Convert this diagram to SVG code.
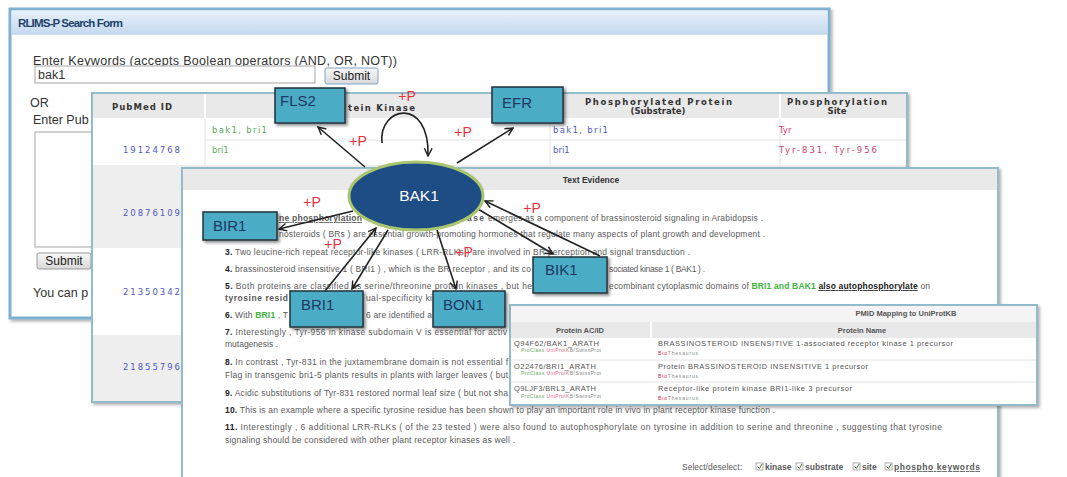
<svg xmlns="http://www.w3.org/2000/svg" width="1067" height="477" viewBox="0 0 1067 477">
<defs>
<style>
.f{font-family:"Liberation Sans",Arial,sans-serif}
.v{font-family:"DejaVu Sans",Verdana,sans-serif}
.frm{font-family:"Liberation Sans",Arial,sans-serif;font-size:12.5px;fill:#333}
.pn{fill:#fff;stroke:#93bccb;stroke-width:2}
.hd{fill:#e9e9e9}
.t{font-family:"Liberation Sans",Arial,sans-serif;font-size:8.5px;fill:#5a5a5a}
.n{font-weight:bold;fill:#222}
.th{font-family:"DejaVu Sans",Verdana,sans-serif;font-size:8.5px;font-weight:bold;fill:#333}
.c{font-family:"DejaVu Sans",Verdana,sans-serif;font-size:8.5px}
.gr{fill:#5fa85f}
.bu{fill:#5059c4}
.rd{fill:#cc4468}
.pm{font-family:"Liberation Sans",Arial,sans-serif;font-size:7.5px;fill:#555}
.sm{font-family:"Liberation Sans",Arial,sans-serif;font-size:5px}
.box{fill:#4bacc6;stroke:#23303a;stroke-width:1.5}
.bl{font-family:"Liberation Sans",Arial,sans-serif;font-size:15px;fill:#1f3864}
.pp{font-family:"Liberation Sans",Arial,sans-serif;font-size:14px;fill:#e8323c}
.ar{stroke:#222;stroke-width:1.6;fill:none;marker-end:url(#ah)}
.btn{fill:url(#bg);stroke:#9a9a9a}
.cb{fill:#fff;stroke:#999;stroke-width:0.8}
.ck{fill:none;stroke:#4a7a4a;stroke-width:1}
</style>
<linearGradient id="tb" x1="0" y1="0" x2="0" y2="1"><stop offset="0" stop-color="#e6f0fa"/><stop offset="1" stop-color="#c6daee"/></linearGradient>
<linearGradient id="bg" x1="0" y1="0" x2="0" y2="1"><stop offset="0" stop-color="#f7f7f7"/><stop offset="1" stop-color="#d9d9d9"/></linearGradient>
<filter id="sh" x="-5%" y="-5%" width="115%" height="115%"><feDropShadow dx="2" dy="2" stdDeviation="1.5" flood-color="#000" flood-opacity="0.3"/></filter>
<filter id="bs" x="-20%" y="-20%" width="150%" height="150%"><feDropShadow dx="2" dy="2" stdDeviation="1.5" flood-color="#000" flood-opacity="0.45"/></filter>
<marker id="ah" viewBox="0 0 10 10" refX="9" refY="5" markerWidth="6" markerHeight="6" orient="auto"><path d="M1,1 L9,5 L1,9" fill="none" stroke="#222" stroke-width="1.5"/></marker>
</defs>
<rect width="1067" height="477" fill="#fff"/>

<g id="search-form">
<rect x="10" y="9" width="819" height="309" fill="#fff" stroke="#7fb0cf" stroke-width="3" filter="url(#sh)"/>
<rect x="11.5" y="10.5" width="816" height="23" fill="url(#tb)"/>
<line x1="11.5" y1="34" x2="827.5" y2="34" stroke="#a9c4de"/>
<text class="f" x="18" y="27" font-size="11.5" font-weight="bold" fill="#22436b" textLength="105">RLIMS-P Search Form</text>
<text class="frm" x="33" y="65" textLength="364">Enter Keywords (accepts Boolean operators (AND, OR, NOT))</text>
<rect x="35" y="66" width="280" height="17" fill="#fff" stroke="#a5a5a5"/>
<text class="frm" x="38" y="79">bak1</text>
<rect x="325" y="68" width="53" height="16" rx="2" fill="url(#bg)" stroke="#7ea6c8"/>
<text class="f" x="351.5" y="80" font-size="12" fill="#222" text-anchor="middle">Submit</text>
<text class="frm" x="30" y="107">OR</text>
<text class="frm" x="33" y="124">Enter Pub</text>
<rect x="35" y="132" width="80" height="115" fill="#fff" stroke="#a5a5a5"/>
<rect x="37" y="253" width="54" height="16" rx="2" class="btn"/>
<text class="f" x="64" y="265" font-size="12" fill="#222" text-anchor="middle">Submit</text>
<text class="frm" x="33" y="297" font-size="13">You can p</text>
</g>

<g id="pubmed-table">
<rect x="92" y="93" width="815" height="309" class="pn" filter="url(#sh)"/>
<rect x="93" y="94" width="813" height="24" class="hd"/>
<rect x="93" y="165" width="813" height="83" fill="#eeeeee"/>
<rect x="93" y="335" width="813" height="66" fill="#eeeeee"/>
<g stroke="#fff" stroke-width="2"><line x1="205" y1="94" x2="205" y2="118"/><line x1="550" y1="94" x2="550" y2="118"/><line x1="780" y1="94" x2="780" y2="118"/></g>
<g stroke="#e4e4e4" stroke-width="1"><line x1="205" y1="140" x2="906" y2="140"/><line x1="205" y1="118" x2="205" y2="165"/><line x1="550" y1="118" x2="550" y2="165"/><line x1="780" y1="118" x2="780" y2="165"/></g>
<text class="th" x="112" y="110" textLength="60">PubMed ID</text>
<text class="th" x="348" y="111" textLength="67">tein Kinase</text>
<text class="th" x="585" y="105" textLength="147">Phosphorylated Protein</text>
<text class="th" x="658" y="114" text-anchor="middle">(Substrate)</text>
<text class="th" x="787" y="105" textLength="100">Phosphorylation</text>
<text class="th" x="837" y="114" text-anchor="middle">Site</text>
<text class="c gr" x="212" y="133" textLength="55">bak1, bri1</text>
<text class="c gr" x="212" y="153">bri1</text>
<text class="c bu" x="553" y="133" textLength="55">bak1, bri1</text>
<text class="c bu" x="553" y="153">bri1</text>
<text class="c rd" x="779" y="133">Tyr</text>
<text class="c rd" x="779" y="153" textLength="98">Tyr-831, Tyr-956</text>
<text class="c bu" x="123" y="153" textLength="57">19124768</text>
<text class="c bu" x="123" y="216" textLength="57">20876109</text>
<text class="c bu" x="123" y="295" textLength="57">21350342</text>
<text class="c bu" x="123" y="370" textLength="57">21855796</text>
</g>

<g id="text-evidence">
<rect x="182" y="168" width="816" height="330" class="pn" filter="url(#sh)"/>
<rect x="183" y="169" width="814" height="21" class="hd"/>
<text class="f" x="591" y="183" font-size="8.5" font-weight="bold" fill="#333" text-anchor="middle">Text Evidence</text>
<text class="t" x="279" y="221" textLength="83" font-weight="bold" fill="#d8204a" text-decoration="underline">ne phosphorylation</text>
<text class="t" x="467" y="221" textLength="17" font-weight="bold" fill="#3050c0">ase</text>
<text class="t" x="488" y="221" textLength="275">emerges as a component of brassinosteroid signaling in Arabidopsis .</text>
<text class="t" x="279" y="237" textLength="486">nosteroids ( BRs ) are essential growth-promoting hormones that regulate many aspects of plant growth and development .</text>
<text class="t" x="225" y="255" textLength="465"><tspan class="n">3.</tspan> Two leucine-rich repeat receptor-like kinases ( LRR-RLKs ) are involved in BR perception and signal transduction .</text>
<text class="t" x="225" y="272" textLength="306"><tspan class="n">4.</tspan> brassinosteroid insensitive 1 ( BRI1 ) , which is the BR receptor , and its co</text>
<text class="t" x="609" y="272" textLength="96">sociated kinase 1 ( BAK1 ) .</text>
<text class="t" x="225" y="289" textLength="307"><tspan class="n">5.</tspan> Both proteins are classified as serine/threonine protein kinases , but he</text>
<text class="t" x="609" y="289" textLength="321">ecombinant cytoplasmic domains of <tspan font-weight="bold" fill="#3cb53c">BRI1 and BAK1</tspan> <tspan font-weight="bold" fill="#222" text-decoration="underline">also autophosphorylate</tspan> on</text>
<text class="t" x="225" y="301" textLength="63" font-weight="bold" fill="#d8204a">tyrosine resid</text>
<text class="t" x="366" y="301" textLength="66">ual-specificity ki</text>
<text class="t" x="225" y="318" textLength="63"><tspan class="n">6.</tspan> With <tspan font-weight="bold" fill="#3cb53c">BRI1</tspan> , T</text>
<text class="t" x="366" y="318" textLength="66">6 are identified a</text>
<text class="t" x="225" y="335" textLength="282"><tspan class="n">7.</tspan> Interestingly , Tyr-956 in kinase subdomain V is essential for activ</text>
<text class="t" x="225" y="347">mutagenesis .</text>
<text class="t" x="225" y="365" textLength="283"><tspan class="n">8.</tspan> In contrast , Tyr-831 in the juxtamembrane domain is not essential f</text>
<text class="t" x="225" y="378" textLength="283">Flag in transgenic bri1-5 plants results in plants with larger leaves ( but</text>
<text class="t" x="225" y="396" textLength="283"><tspan class="n">9.</tspan> Acidic substitutions of Tyr-831 restored normal leaf size ( but not sha</text>
<text class="t" x="225" y="413" textLength="550"><tspan class="n">10.</tspan> This is an example where a specific tyrosine residue has been shown to play an important role in vivo in plant receptor kinase function .</text>
<text class="t" x="225" y="430" textLength="717"><tspan class="n">11.</tspan> Interestingly , 6 additional LRR-RLKs ( of the 23 tested ) were also found to autophosphorylate on tyrosine in addition to serine and threonine , suggesting that tyrosine</text>
<text class="t" x="225" y="443" textLength="290">signaling should be considered with other plant receptor kinases as well .</text>
<text class="t" x="682" y="470" font-size="8">Select/deselect:</text>
<rect x="756" y="463" width="7" height="7" class="cb"/><path class="ck" d="M757.5,466.5 L759.5,468.5 L762,464"/>
<text class="t" x="765" y="470" font-size="8" font-weight="bold" fill="#3cb53c">kinase</text>
<rect x="796" y="463" width="7" height="7" class="cb"/><path class="ck" d="M797.5,466.5 L799.5,468.5 L802,464"/>
<text class="t" x="805" y="470" font-size="8" font-weight="bold" fill="#3050c0">substrate</text>
<rect x="853" y="463" width="7" height="7" class="cb"/><path class="ck" d="M854.5,466.5 L856.5,468.5 L859,464"/>
<text class="t" x="862" y="470" font-size="8" font-weight="bold" fill="#d8204a">site</text>
<rect x="885" y="463" width="7" height="7" class="cb"/><path class="ck" d="M886.5,466.5 L888.5,468.5 L891,464"/>
<text class="t" x="894" y="470" font-size="8" font-weight="bold" fill="#222" text-decoration="underline" textLength="86">phospho keywords</text>
</g>

<g id="pmid-mapping">
<rect x="510" y="305" width="527" height="100" class="pn" filter="url(#sh)"/>
<rect x="511" y="306" width="525" height="16" fill="#f4f4f4"/>
<rect x="511" y="322" width="525" height="16" class="hd"/>
<line x1="651" y1="322" x2="651" y2="338" stroke="#fff" stroke-width="2"/>
<g stroke="#e2e2e2"><line x1="511" y1="360" x2="1036" y2="360"/><line x1="511" y1="382" x2="1036" y2="382"/></g>
<text class="pm" x="906" y="316" font-weight="bold" fill="#333" text-anchor="middle">PMID Mapping to UniProtKB</text>
<text class="pm" x="580" y="333" font-weight="bold" fill="#333" text-anchor="middle">Protein AC/ID</text>
<text class="pm" x="862" y="333" font-weight="bold" fill="#333" text-anchor="middle">Protein Name</text>
<text class="pm" x="514" y="346" textLength="85">Q94F62/BAK1_ARATH</text>
<text class="sm" x="521" y="352" textLength="80"><tspan fill="#5fa85f">ProClass </tspan><tspan fill="#e0608a">UniProt</tspan><tspan fill="#888">KB/SwissProt</tspan></text>
<text class="pm" x="658" y="346" textLength="295">BRASSINOSTEROID INSENSITIVE 1-associated receptor kinase 1 precursor</text>
<text class="sm" x="658" y="355" textLength="40"><tspan fill="#d8204a">Bio</tspan><tspan fill="#888">Thesaurus</tspan></text>
<text class="pm" x="514" y="369" textLength="82">O22476/BRI1_ARATH</text>
<text class="sm" x="521" y="375" textLength="80"><tspan fill="#5fa85f">ProClass </tspan><tspan fill="#e0608a">UniProt</tspan><tspan fill="#888">KB/SwissProt</tspan></text>
<text class="pm" x="658" y="369" textLength="210">Protein BRASSINOSTEROID INSENSITIVE 1 precursor</text>
<text class="sm" x="658" y="378" textLength="40"><tspan fill="#d8204a">Bio</tspan><tspan fill="#888">Thesaurus</tspan></text>
<text class="pm" x="514" y="391" textLength="82">Q9LJF3/BRL3_ARATH</text>
<text class="sm" x="521" y="398" textLength="80"><tspan fill="#5fa85f">ProClass </tspan><tspan fill="#e0608a">UniProt</tspan><tspan fill="#888">KB/SwissProt</tspan></text>
<text class="pm" x="658" y="391" textLength="194">Receptor-like protein kinase BRI1-like 3 precursor</text>
<text class="sm" x="658" y="400" textLength="40"><tspan fill="#d8204a">Bio</tspan><tspan fill="#888">Thesaurus</tspan></text>
</g>

<g id="connectors">
<line class="ar" x1="365" y1="167" x2="318" y2="127"/>
<path class="ar" d="M382,143 C378,106 430,96 428,156"/>
<line class="ar" x1="457" y1="163" x2="513" y2="128"/>
<line class="ar" x1="353" y1="211" x2="279" y2="229"/>
<line class="ar" x1="325" y1="291" x2="376" y2="228"/>
<line class="ar" x1="388" y1="230" x2="352" y2="289"/>
<line class="ar" x1="437" y1="230" x2="456" y2="289"/>
<line class="ar" x1="600" y1="256" x2="485" y2="201"/>
<line class="ar" x1="478" y1="209" x2="553" y2="254"/>
</g>

<g id="BAK1"><ellipse cx="416" cy="196" rx="67" ry="34" fill="#1e4d86" stroke="#a9c66f" stroke-width="3"/><text class="f" x="419" y="201" font-size="15.5" fill="#fff" text-anchor="middle">BAK1</text></g>
<g id="FLS2"><rect class="box" x="275" y="88" width="70" height="35" filter="url(#bs)"/><text class="bl" x="280" y="106">FLS2</text></g>
<g id="EFR"><rect class="box" x="492" y="87" width="71" height="36" filter="url(#bs)"/><text class="bl" x="502" y="108">EFR</text></g>
<g id="BIR1"><rect class="box" x="203" y="212" width="74" height="28" filter="url(#bs)"/><text class="bl" x="213" y="231">BIR1</text></g>
<g id="BIK1"><rect class="box" x="533" y="257" width="74" height="36" filter="url(#bs)"/><text class="bl" x="545" y="275">BIK1</text></g>
<g id="BRI1"><rect class="box" x="290" y="291" width="73" height="36" filter="url(#bs)"/><text class="bl" x="301" y="310">BRI1</text></g>
<g id="BON1"><rect class="box" x="433" y="291" width="72" height="36" filter="url(#bs)"/><text class="bl" x="443" y="310">BON1</text></g>

<g id="labels">
<text class="pp" x="407" y="101" text-anchor="middle">+P</text>
<text class="pp" x="358" y="146" text-anchor="middle">+P</text>
<text class="pp" x="463" y="137" text-anchor="middle">+P</text>
<text class="pp" x="312" y="207" text-anchor="middle">+P</text>
<text class="pp" x="532" y="213" text-anchor="middle">+P</text>
<text class="pp" x="333" y="249" text-anchor="middle">+P</text>
<text class="pp" x="464" y="257" text-anchor="middle">+P</text>
</g>
</svg>
